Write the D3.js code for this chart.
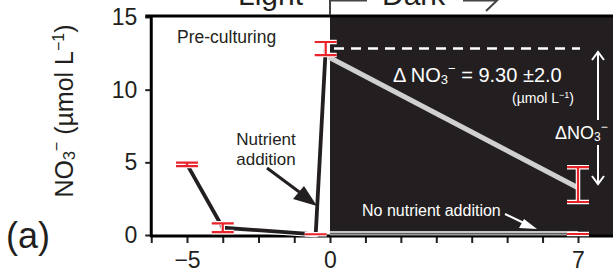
<!DOCTYPE html>
<meta charset="utf-8">
<style>
body { margin: 0; background: #fff; }
svg { display: block; font-family: Arial, "Liberation Sans", sans-serif; }
.axis path { display: none; }
.axis line { stroke: #231f20; stroke-width: 2; }
.axis text { fill: #231f20; font-size: 23px; font-family: Arial, "Liberation Sans", sans-serif; }
</style>
<body>
<script src="https://cdn.jsdelivr.net/npm/d3@7"></script>
<script>

// ---- data ----
// light phase (black line), x in axis units
var lightDays = [-5, -3.75, -0.5, -0.15];
var lightVals = [4.86, 0.5, 0.05, 12.83];
var lightErr  = [0.12, 0.3, 0, 0.45];

// dark phase, nutrient added (grey line)
var darkDays = [0, 7];
var darkVals = [12.3, 3.25];
var darkErrDay = [7];
var darkErrVal = [3.47];
var darkErrSd  = [1.2];

// dark phase, no nutrient addition
var noNutDays = [0, 7];
var noNutVals = [0.12, 0.12];

var xTicks = [-6.25, -5, -3.75, -2.5, -1.25, 0, 1, 2, 3, 4, 5, 6, 7];
var xLabels = {"-5": "\u22125", "0": "0", "7": "7"};
var yTicks = [0, 5, 10, 15];

var W = 613, H = 272;
var ink = "#231f20";

var svg = d3.select("body").append("svg")
    .attr("width", W).attr("height", H);

// polylinear: the left part of the axis is compressed
var x = d3.scaleLinear().domain([-5, 0, 7]).range([187, 330, 578]);
var y = d3.scaleLinear().domain([0, 15]).range([235, 17]);

// dark background for the dark phase
svg.append("rect")
    .attr("x", x(0)).attr("y", y(15))
    .attr("width", W - x(0)).attr("height", y(0) - y(15))
    .attr("fill", ink);

// axes
svg.append("g").attr("class", "x axis")
    .attr("transform", "translate(0," + (y(0) + 1) + ")")
    .call(d3.axisBottom(x).tickValues(xTicks).tickSize(7).tickPadding(9)
        .tickFormat(function(d) { return xLabels[String(d)] || ""; }));

svg.append("g").attr("class", "y axis")
    .attr("transform", "translate(" + x(-6.25) + ",0)")
    .call(d3.axisLeft(y).tickValues(yTicks).tickSize(6).tickPadding(8));

// frame: left spine, top line, bottom spine
svg.append("line").attr("x1", x(-6.25)).attr("x2", x(-6.25))
    .attr("y1", y(15) - 1).attr("y2", y(0) + 2)
    .attr("stroke", "#000").attr("stroke-width", 3);
svg.append("line").attr("x1", x(-6.25) - 6).attr("x2", W)
    .attr("y1", y(15) - 1).attr("y2", y(15) - 1)
    .attr("stroke", "#000").attr("stroke-width", 3);
svg.append("line").attr("x1", x(-6.25) - 1).attr("x2", W)
    .attr("y1", y(0) + 1).attr("y2", y(0) + 1)
    .attr("stroke", "#000").attr("stroke-width", 3);

var line = d3.line()
    .x(function(d) { return x(d[0]); })
    .y(function(d) { return y(d[1]); });

// dashed reference line at the starting concentration
svg.append("line")
    .attr("x1", x(0) + 4).attr("x2", x(7) + 2)
    .attr("y1", y(lightVals[3])).attr("y2", y(lightVals[3]))
    .attr("stroke", "#fff").attr("stroke-width", 2.5)
    .attr("stroke-dasharray", "10,7");

// no nutrient line
svg.append("path")
    .attr("d", line(d3.zip(noNutDays, noNutVals.map(function(v) { return v + 0.08; }))))
    .attr("stroke", "#fff").attr("stroke-width", 1.5).attr("fill", "none");
svg.append("path")
    .attr("d", line(d3.zip(noNutDays, noNutVals.map(function(v) { return v - 0.08; }))))
    .attr("stroke", "#9a9a9a").attr("stroke-width", 2).attr("fill", "none");

// nutrient added, dark phase
svg.append("path")
    .attr("d", line(d3.zip([darkDays[0] - 0.1, darkDays[1]], darkVals)))
    .attr("stroke", "#d0d0d0").attr("stroke-width", 5).attr("fill", "none");

// light phase
svg.append("path")
    .attr("d", line(d3.zip(lightDays, lightVals)))
    .attr("stroke", "#fff").attr("stroke-width", 6).attr("fill", "none")
    .attr("stroke-linejoin", "round");
svg.append("path")
    .attr("d", line(d3.zip(lightDays, lightVals)))
    .attr("stroke", ink).attr("stroke-width", 3.8).attr("fill", "none")
    .attr("stroke-linejoin", "round");

// error bars
var bars = [];
lightDays.forEach(function(d, i) { bars.push([d, lightVals[i], lightErr[i]]); });
darkErrDay.forEach(function(d, i) { bars.push([d, darkErrVal[i], darkErrSd[i]]); });
bars.push([noNutDays[1], noNutVals[1] - 0.05, 0]);

function errPath(b) {
    var cx = x(b[0]), hw = 11;
    var t = y(b[1] + b[2]), bt = y(b[1] - b[2]);
    return "M" + (cx - hw) + "," + t + "H" + (cx + hw) +
           "M" + (cx - hw) + "," + bt + "H" + (cx + hw) +
           "M" + cx + "," + t + "V" + bt;
}
svg.selectAll(".errw").data(bars).enter().append("path")
    .attr("d", errPath).attr("fill", "none")
    .attr("stroke", "#fff").attr("stroke-width", 4.5);
svg.selectAll(".errr").data(bars).enter().append("path")
    .attr("d", errPath).attr("fill", "none")
    .attr("stroke", "#e8232a").attr("stroke-width", 2.2);

// ---- annotations ----
function txt(tx, ty, size, col, s, anchor) {
    return svg.append("text").attr("x", tx).attr("y", ty)
        .attr("font-size", size).attr("fill", col)
        .attr("text-anchor", anchor || "start").text(s);
}

// header Light | Dark
txt(238, 5, 30, ink, "Light");
txt(382, 5, 30, ink, "Dark");
svg.append("path").attr("d", "M" + x(0) + ",0V15M" + x(0) + ",0.5H367M463,0.5H497L486,11")
    .attr("stroke", "#444").attr("stroke-width", 2).attr("fill", "none");

txt(177, 43, 17.5, ink, "Pre-culturing");

// Nutrient addition
txt(266, 145, 17, ink, "Nutrient", "middle");
txt(266, 165, 17, ink, "addition", "middle");
svg.append("line").attr("x1", 267).attr("y1", 168).attr("x2", 306).attr("y2", 197)
    .attr("stroke", ink).attr("stroke-width", 3);
svg.append("path").attr("d", "M317,206L293,199L304,186Z").attr("fill", ink);

// No nutrient addition
txt(362, 216, 16, "#fff", "No nutrient addition");
svg.append("line").attr("x1", 505).attr("y1", 214).attr("x2", 528).attr("y2", 225)
    .attr("stroke", "#fff").attr("stroke-width", 2);
svg.append("path").attr("d", "M537,229L519,228L524,219Z").attr("fill", "#fff");

// delta annotation
var dt = svg.append("text").attr("x", 393).attr("y", 82)
    .attr("font-size", 20).attr("fill", "#fff");
dt.append("tspan").text("\u0394 NO");
dt.append("tspan").attr("font-size", 13).attr("dy", 2).text("3");
dt.append("tspan").attr("font-size", 13).attr("dy", -11).text("\u2212");
dt.append("tspan").attr("dy", 9).text("  = 9.30 \u00b12.0");

var ut = svg.append("text").attr("x", 512).attr("y", 103)
    .attr("font-size", 14).attr("fill", "#fff");
ut.append("tspan").text("(\u00b5mol L");
ut.append("tspan").attr("font-size", 9).attr("dy", -5).text("\u22121");
ut.append("tspan").attr("dy", 5).text(")");

var dn = svg.append("text").attr("x", 555).attr("y", 139)
    .attr("font-size", 18).attr("fill", "#fff");
dn.append("tspan").text("\u0394NO");
dn.append("tspan").attr("font-size", 12).attr("dy", 2).text("3");
dn.append("tspan").attr("font-size", 12).attr("dy", -10).text("\u2212");

svg.append("path")
    .attr("d", "M598," + 120 + "V52M592,60L598,52L604,60M598,145V184M592,176L598,184L604,176")
    .attr("stroke", "#fff").attr("stroke-width", 2).attr("fill", "none");

// y title
var yt = svg.append("text")
    .attr("transform", "translate(73,111) rotate(-90)")
    .attr("text-anchor", "middle").attr("font-size", 25).attr("fill", ink);
yt.append("tspan").text("NO");
yt.append("tspan").attr("font-size", 16).attr("dy", 2).text("3");
yt.append("tspan").attr("font-size", 16).attr("dy", -13).text("\u2212");
yt.append("tspan").attr("dy", 11).text(" (\u00b5mol L");
yt.append("tspan").attr("font-size", 16).attr("dy", -9).text("\u22121");
yt.append("tspan").attr("dy", 9).text(")");

// panel label
txt(6, 248, 36, ink, "(a)");

</script>
</body>
